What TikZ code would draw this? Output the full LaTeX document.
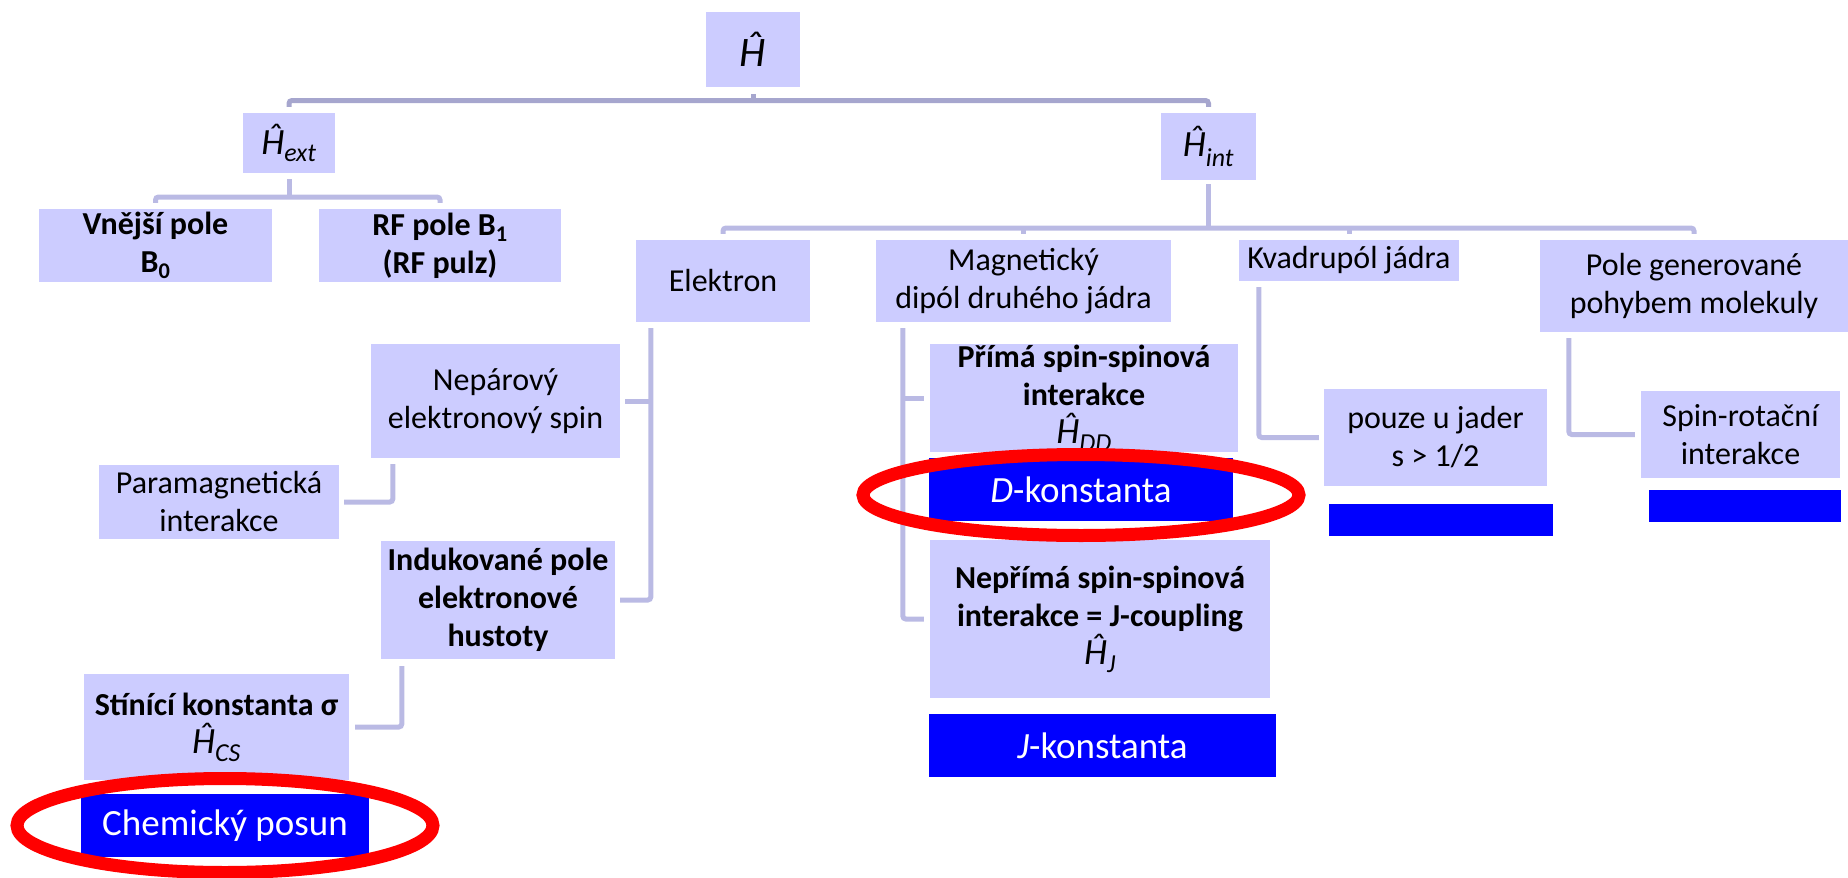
\documentclass[tikz,border=0pt]{standalone}
\usepackage{fontspec}
\setmainfont{Carlito}
\usepackage{tikz}
\usetikzlibrary{calc}
\definecolor{boxfill}{RGB}{204,204,255}
\definecolor{linecol}{RGB}{186,186,228}
\definecolor{topline}{RGB}{166,166,206}
\definecolor{constblue}{RGB}{0,0,255}
\newcommand{\Hop}[1]{{\fontsize{37}{38}\selectfont\textit{Ĥ}\textsubscript{\textit{#1}}}}

\begin{document}
\begin{tikzpicture}[x=1pt, y=-1pt, font={\fontsize{32}{38}\selectfont}]
	\tikzset	{
		box/.style={fill=boxfill, inner sep=0pt, align=center},
		const/.style={fill=constblue, text=white, inner sep=0pt, align=center, font={\fontsize{37}{40}\selectfont}},
		conn/.style={draw=linecol, line width=5pt},
		topconn/.style={draw=topline, line width=5pt},
		ring/.style={draw=red, line width=13pt},
	}
	\useasboundingbox (0,0) rectangle (1848,878);

	\node[box, minimum width=94pt, minimum height=75pt]		(H) at (753,49.5) {{\fontsize{42}{42}\selectfont\textit{Ĥ}}};
	\node[box, minimum width=92pt, minimum height=60pt]		(Hext) at (289,143) {\Hop{ext}};
	\node[box, minimum width=95pt, minimum height=67pt]		(Hint) at (1208.5,146.5) {\Hop{int}};

	\node[box, minimum width=233pt, minimum height=73pt]	(vnejsi) at (155.5,245.5) {\bfseries Vnější pole\\\bfseries B\textsubscript{0}};
	\node[box, minimum width=242pt, minimum height=73pt]	(rf) at (440,245.5) {\bfseries RF pole B\textsubscript{1}\\\bfseries (RF pulz)};

	\node[box, minimum width=174pt, minimum height=82pt]	(elektron) at (723,281) {Elektron};
	\node[box, minimum width=295pt, minimum height=82pt]	(magdip) at (1023.5,281) {Magnetický\\dipól druhého jádra};
	\node[box, minimum width=220pt, minimum height=41pt]	(kvadr) at (1349,260.5) {Kvadrupól jádra};
	\node[box, minimum width=308pt, minimum height=92pt]	(pole) at (1694,286) {Pole generované\\pohybem molekuly};

	\node[box, minimum width=249pt, minimum height=114pt]	(neparovy) at (495.5,401) {Nepárový\\elektronový spin};
	\node[box, minimum width=240pt, minimum height=74pt]	(paramag) at (219,502) {Paramagnetická\\interakce};
	\node[box, minimum width=234pt, minimum height=118pt]	(indukovane) at (498,600) {\bfseries Indukované pole\\\bfseries elektronové\\\bfseries hustoty};
	\node[box, minimum width=265pt, minimum height=106pt]	(stinici) at (216.5,727) {\bfseries Stínící konstanta σ\\\Hop{CS}};
	\node[const, minimum width=288pt, minimum height=63pt]	(chem) at (225,825.5) {Chemický posun};

	\node[box, minimum width=308pt, minimum height=108pt]	(prima) at (1084,398) {\bfseries Přímá spin-spinová\\\bfseries interakce\\\Hop{DD}};
	\node[const, minimum width=304pt, minimum height=63pt]	(dkonst) at (1081,489.5) {\textit{D}-konstanta};
	\node[box, minimum width=340pt, minimum height=158pt]	(neprima) at (1100,619) {\bfseries Nepřímá spin-spinová\\\bfseries interakce = J-coupling\\\Hop{J}};
	\node[const, minimum width=347pt, minimum height=63pt]	(jkonst) at (1102.5,745.5) {\textit{J}-konstanta};

	\node[box, minimum width=223pt, minimum height=97pt]	(pouze) at (1435.5,437.5) {pouze u jader\\s > 1/2};
	\node[const, minimum width=224pt, minimum height=32pt]	(kvconst) at (1441,520) {};
	\node[box, minimum width=199pt, minimum height=87pt]	(spinrot) at (1740.5,434.5) {Spin-rotační\\interakce};
	\node[const, minimum width=192pt, minimum height=32pt]	(srconst) at (1745,506) {};

	\coordinate (topbar) at (753,100.5);
	\draw[topconn] ([yshift=-7pt]H.south) -- (topbar);
	\draw[topconn, rounded corners=3pt] ([yshift=6pt]Hext.north) |- (topbar) -| ([yshift=6pt]Hint.north);

	\coordinate (extbar) at (289,197);
	\draw[conn] ([yshift=-6pt]Hext.south) -- (extbar);
	\draw[conn, rounded corners=3pt] ([yshift=6pt]vnejsi.north) |- (extbar) -| ([yshift=6pt]rf.north);

	\coordinate (intbar) at (1208.5,228);
	\draw[conn] ([yshift=-4pt]Hint.south) -- (intbar);
	\draw[conn, rounded corners=3pt] ([yshift=6pt]elektron.north) |- (intbar) -| ([yshift=6pt]pole.north);
	\draw[conn] ([yshift=6pt]magdip.north) -- (magdip.north |- intbar);
	\draw[conn] ([yshift=6pt]kvadr.north) -- (kvadr.north |- intbar);

	\coordinate (elline) at ([xshift=15pt,yshift=-6pt]elektron.south west);
	\draw[conn, rounded corners=3pt] (elline) |- ([xshift=5pt]indukovane.east);
	\draw[conn] ([xshift=5pt]neparovy.east) -- (neparovy.east -| elline);
	\draw[conn, rounded corners=3pt] ([xshift=22pt,yshift=-6pt]neparovy.south west) |- ([xshift=5pt]paramag.east);
	\draw[conn, rounded corners=3pt] ([xshift=21pt,yshift=-7pt]indukovane.south west) |- ([xshift=6pt]stinici.east);

	\coordinate (magline) at ([xshift=27pt,yshift=-6pt]magdip.south west);
	\draw[conn, rounded corners=3pt] (magline) |- ([xshift=-6pt]neprima.west);
	\draw[conn] ([xshift=-6pt]prima.west) -- (prima.west -| magline);

	\draw[conn, rounded corners=3pt] ([xshift=20pt,yshift=-6pt]kvadr.south west) |- ([xshift=-5pt]pouze.west);
	\draw[conn, rounded corners=3pt] ([xshift=29pt,yshift=-6pt]pole.south west) |- ([xshift=-6pt]spinrot.west);

	\draw[ring] (chem) ellipse [x radius=208, y radius=47];
	\draw[ring] ([yshift=-5.5pt]dkonst.center) ellipse [x radius=218, y radius=40.5];
\end{tikzpicture}
\end{document}
